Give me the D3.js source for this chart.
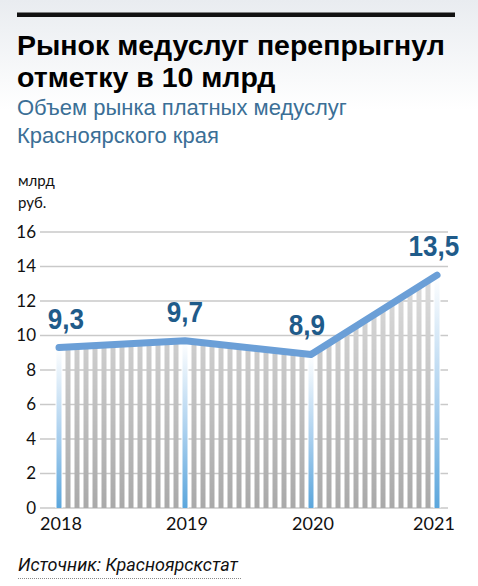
<!DOCTYPE html>
<html>
<head>
<meta charset="utf-8">
<script src="https://cdn.jsdelivr.net/npm/d3@7"></script>
<style>
  html, body { margin: 0; padding: 0; background: #fff; }
  svg { display: block; }
</style>
</head>
<body>
<svg id="chart" width="478" height="586"></svg>
<script>
const years = [2018, 2019, 2020, 2021];
const values = [9.3, 9.7, 8.9, 13.5];
const valueLabels = ["9,3", "9,7", "8,9", "13,5"];
const yTicks = [0, 2, 4, 6, 8, 10, 12, 14, 16];

const svg = d3.select("#chart");
const width = 478;
const height = 586;

const data = years.map((year, i) => ({year, value: values[i], label: valueLabels[i]}));

const x = d3.scaleLinear().domain([2018, 2021]).range([59, 437]);
const y = d3.scaleLinear().domain([0, 16]).range([508, 232]);

const barW = 5;
const step = (x(2019) - x(2018)) / 14;  // thin stripes between the years

const defs = svg.append("defs");

// soft grey wash behind the heading
const bg = defs.append("linearGradient").attr("id", "bgGrad")
  .attr("x1", 0).attr("y1", 0).attr("x2", 0).attr("y2", 1);
bg.append("stop").attr("offset", 0).attr("stop-color", "#e9ecf0");
bg.append("stop").attr("offset", 1).attr("stop-color", "#ffffff");

const grey = defs.append("linearGradient").attr("id", "greyGrad")
  .attr("gradientUnits", "userSpaceOnUse")
  .attr("x1", 0).attr("y1", y(16)).attr("x2", 0).attr("y2", y(0));
grey.append("stop").attr("offset", 0).attr("stop-color", "#e6e6e6");
grey.append("stop").attr("offset", 1).attr("stop-color", "#a9a9a9");

const blue = defs.append("linearGradient").attr("id", "blueGrad")
  .attr("x1", 0).attr("y1", 0).attr("x2", 0).attr("y2", 1);
blue.append("stop").attr("offset", 0).attr("stop-color", "#ffffff");
blue.append("stop").attr("offset", 0.55).attr("stop-color", "#a9cfee");
blue.append("stop").attr("offset", 1).attr("stop-color", "#5ba6dc");

const stripes = defs.append("pattern").attr("id", "stripes")
  .attr("patternUnits", "userSpaceOnUse")
  .attr("x", x(2018) - barW / 2).attr("y", 0)
  .attr("width", step).attr("height", height);
stripes.append("rect")
  .attr("x", 0).attr("y", 0)
  .attr("width", barW).attr("height", height)
  .attr("fill", "url(#greyGrad)");

svg.append("rect")
  .attr("width", width).attr("height", 110)
  .attr("fill", "url(#bgGrad)");

// heading
svg.append("rect")
  .attr("x", 17).attr("y", 12.5)
  .attr("width", 438).attr("height", 4.5)
  .attr("fill", "#111");

const title = svg.append("text")
  .attr("font-family", "Liberation Sans, Arial, sans-serif")
  .attr("font-weight", "bold")
  .attr("font-size", 28.5)
  .attr("fill", "#000");
title.append("tspan").attr("x", 17).attr("y", 55).text("Рынок медуслуг перепрыгнул");
title.append("tspan").attr("x", 17).attr("y", 87).text("отметку в 10 млрд");

const sub = svg.append("text")
  .attr("font-family", "Liberation Sans, Arial, sans-serif")
  .attr("font-size", 22)
  .attr("fill", "#3b6f96");
sub.append("tspan").attr("x", 17).attr("y", 115).text("Объем рынка платных медуслуг");
sub.append("tspan").attr("x", 17).attr("y", 143).text("Красноярского края");

const unit = svg.append("text")
  .attr("font-family", "Lato, sans-serif")
  .attr("font-size", 15)
  .attr("fill", "#111");
unit.append("tspan").attr("x", 18).attr("y", 186).text("млрд");
unit.append("tspan").attr("x", 18).attr("y", 208).text("руб.");

// grid + y labels
const grid = svg.append("g").attr("class", "grid");
grid.selectAll("line")
  .data(yTicks)
  .join("line")
  .attr("x1", 40).attr("x2", 448)
  .attr("y1", d => y(d)).attr("y2", d => y(d))
  .attr("stroke", "#c9c9c9")
  .attr("stroke-width", 1.5);

grid.selectAll("text")
  .data(yTicks)
  .join("text")
  .attr("x", 36)
  .attr("y", d => y(d))
  .attr("dy", "0.35em")
  .attr("text-anchor", "end")
  .attr("font-family", "Lato, sans-serif")
  .attr("font-size", 17)
  .attr("fill", "#111")
  .text(d => d);

// striped area under the line
const area = d3.area()
  .x(d => x(d.year))
  .y0(y(0))
  .y1(d => y(d.value));

svg.append("path")
  .datum(data)
  .attr("d", area)
  .attr("fill", "url(#stripes)");

// blue bars on the years
const bars = svg.append("g").attr("class", "year-bars");
bars.selectAll("rect.bg")
  .data(data)
  .join("rect")
  .attr("class", "bg")
  .attr("x", d => x(d.year) - barW / 2 - 1)
  .attr("width", barW + 2)
  .attr("y", d => y(d.value))
  .attr("height", d => y(0) - y(d.value))
  .attr("fill", "#fff");
bars.selectAll("rect.bar")
  .data(data)
  .join("rect")
  .attr("class", "bar")
  .attr("x", d => x(d.year) - barW / 2)
  .attr("width", barW)
  .attr("y", d => y(d.value))
  .attr("height", d => y(0) - y(d.value))
  .attr("fill", "url(#blueGrad)");

// the line
const line = d3.line()
  .x(d => x(d.year))
  .y(d => y(d.value));

svg.append("path")
  .datum(data)
  .attr("d", line)
  .attr("fill", "none")
  .attr("stroke", "#6b9fd7")
  .attr("stroke-width", 7)
  .attr("stroke-linecap", "round")
  .attr("stroke-linejoin", "round");

// value labels (condensed bold)
const labelShift = {2018: 7, 2019: 0, 2020: -4, 2021: -3};
svg.append("g")
  .selectAll("text")
  .data(data)
  .join("text")
  .attr("transform", d => `translate(${x(d.year) + labelShift[d.year]},${y(d.value) - 19}) scale(0.9,1)`)
  .attr("text-anchor", "middle")
  .attr("font-family", "Liberation Sans, Arial, sans-serif")
  .attr("font-weight", "bold")
  .attr("font-size", 29)
  .attr("fill", "#1f5b8a")
  .text(d => d.label);

// x labels
svg.append("g")
  .selectAll("text")
  .data(years)
  .join("text")
  .attr("x", d => x(d) + (d === 2021 ? -3 : 2))
  .attr("y", 530)
  .attr("text-anchor", "middle")
  .attr("font-family", "Lato, sans-serif")
  .attr("font-size", 18)
  .attr("fill", "#111")
  .text(d => d);

// source
svg.append("text")
  .attr("x", 18).attr("y", 571)
  .attr("font-family", "Roboto, sans-serif")
  .attr("font-style", "italic")
  .attr("font-size", 18)
  .attr("fill", "#111")
  .text("Источник: Красноярскстат");

svg.append("line")
  .attr("x1", 18).attr("x2", 241)
  .attr("y1", 578.5).attr("y2", 578.5)
  .attr("stroke", "#888")
  .attr("stroke-width", 1)
  .attr("stroke-dasharray", "1,1");
</script>
</body>
</html>
